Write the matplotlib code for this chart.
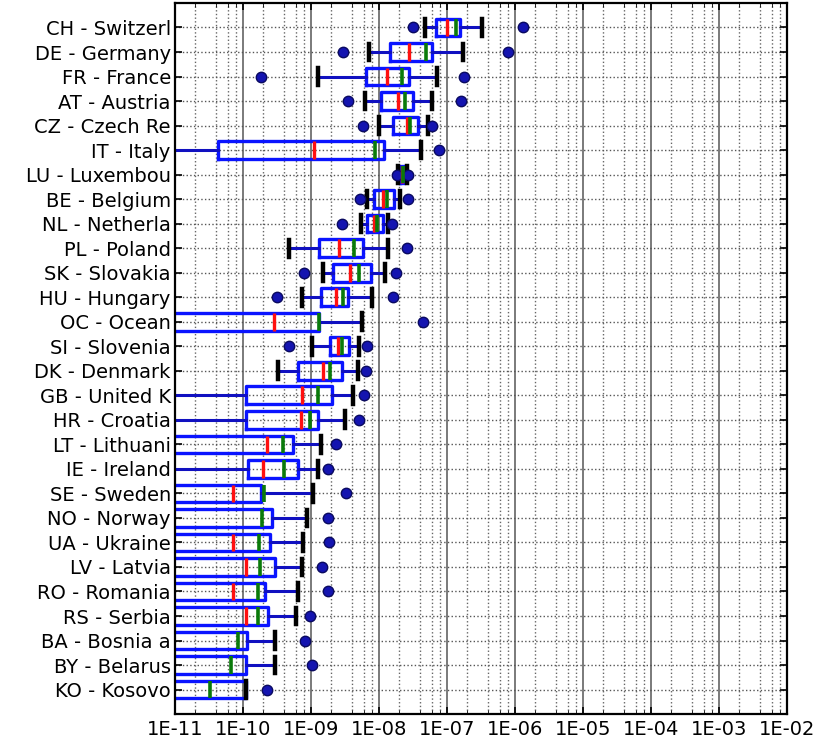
import numpy as np
import matplotlib
matplotlib.use("Agg")
import matplotlib.pyplot as plt
from matplotlib.ticker import LogLocator, FixedLocator, FuncFormatter

# rows listed top to bottom
countries = ["CH - Switzerl", "DE - Germany", "FR - France", "AT - Austria",
             "CZ - Czech Re", "IT - Italy", "LU - Luxembou", "BE - Belgium",
             "NL - Netherla", "PL - Poland", "SK - Slovakia", "HU - Hungary",
             "OC - Ocean", "SI - Slovenia", "DK - Denmark", "GB - United K",
             "HR - Croatia", "LT - Lithuani", "IE - Ireland", "SE - Sweden",
             "NO - Norway", "UA - Ukraine", "LV - Latvia", "RO - Romania",
             "RS - Serbia", "BA - Bosnia a", "BY - Belarus", "KO - Kosovo"]

# values below 1E-11 fall outside the axis (clipped like in the original)
whislo = [4.7e-8, 7.1e-9, 1.26e-9, 6.2e-9, 1.01e-8, 1e-12, 1.9e-8, 6.7e-9,
          5.4e-9, 4.74e-10, 1.52e-9, 7.3e-10, 1e-13, 1.02e-9, 3.3e-10, 1e-12,
          1e-12, 1e-13, 1e-12, 1e-13, 1e-13, 1e-13, 1e-13, 1e-13,
          1e-13, 1e-13, 1e-13, 1e-13]
q1 = [7.0e-8, 1.45e-8, 6.4e-9, 1.06e-8, 1.59e-8, 4.3e-11, 2.04e-8, 8.4e-9,
      6.7e-9, 1.32e-9, 2.13e-9, 1.40e-9, 1e-12, 1.90e-9, 6.4e-10, 1.11e-10,
      1.11e-10, 1e-12, 1.17e-10, 1e-12, 1e-12, 1e-12, 1e-12, 1e-12,
      1e-12, 1e-12, 1e-12, 1e-12]
median = [9.9e-8, 2.76e-8, 1.30e-8, 1.92e-8, 2.55e-8, 1.11e-9, 2.18e-8, 1.16e-8,
          8.4e-9, 2.6e-9, 3.75e-9, 2.33e-9, 2.86e-10, 2.52e-9, 1.49e-9, 7.4e-10,
          7.1e-10, 2.23e-10, 1.99e-10, 7.1e-11, 5e-12, 7.1e-11, 1.11e-10, 7.1e-11,
          1.11e-10, 5e-12, 5e-12, 5e-12]
mean = [1.35e-7, 4.9e-8, 2.15e-8, 2.44e-8, 2.86e-8, 8.7e-9, 2.25e-8, 1.30e-8,
        9.4e-9, 4.3e-9, 5.1e-9, 2.92e-9, 1.31e-9, 2.82e-9, 1.90e-9, 1.28e-9,
        9.7e-10, 3.92e-10, 4.05e-10, 2.06e-10, 1.92e-10, 1.72e-10, 1.78e-10, 1.64e-10,
        1.68e-10, 8.5e-11, 6.7e-11, 3.27e-11]
q3 = [1.55e-7, 6.1e-8, 2.79e-8, 3.13e-8, 3.78e-8, 1.19e-8, 2.41e-8, 1.66e-8,
      1.13e-8, 5.75e-9, 7.6e-9, 3.54e-9, 1.33e-9, 3.62e-9, 2.82e-9, 2.06e-9,
      1.28e-9, 5.5e-10, 6.5e-10, 1.82e-10, 2.70e-10, 2.49e-10, 2.96e-10, 2.11e-10,
      2.36e-10, 1.13e-10, 1.11e-10, 1.11e-10]
whishi = [3.3e-7, 1.74e-7, 7.05e-8, 6.1e-8, 5.3e-8, 4.15e-8, 2.58e-8, 2.04e-8,
          1.37e-8, 1.37e-8, 1.22e-8, 7.8e-9, 5.7e-9, 5.1e-9, 4.87e-9, 4.1e-9,
          3.16e-9, 1.39e-9, 1.26e-9, 1.08e-9, 8.6e-10, 7.7e-10, 7.3e-10, 6.4e-10,
          5.96e-10, 2.96e-10, 2.96e-10, 1.11e-10]
fliers = [[3.2e-8, 1.3e-6], [2.96e-9, 7.9e-7], [1.82e-10, 1.78e-7], [3.47e-9, 1.61e-7],
          [5.75e-9, 5.96e-8], [7.7e-8], [1.82e-8, 2.67e-8], [5.26e-9, 2.7e-8],
          [2.88e-9, 1.54e-8], [2.55e-8], [7.9e-10, 1.78e-8], [3.13e-10, 1.62e-8],
          [4.5e-8], [4.74e-10, 6.6e-9], [6.4e-9], [6.0e-9],
          [5.1e-9], [2.33e-9], [1.79e-9], [3.24e-9], [1.76e-9], [1.84e-9],
          [1.44e-9], [1.79e-9], [9.7e-10], [8.2e-10], [1.04e-9], [2.23e-10]]

tick_exps = list(range(-11, -1))

stats = []
for i in range(len(countries)):
    stats.append({"label": countries[i], "whislo": whislo[i], "q1": q1[i],
                  "med": median[i], "mean": mean[i], "q3": q3[i],
                  "whishi": whishi[i], "fliers": np.array(fliers[i])})

n = len(countries)
positions = np.arange(n, 0, -1)

fig = plt.figure(figsize=(8.36, 7.4), dpi=100)
ax = fig.add_axes([0.2093, 0.035, 0.7321, 0.961])

ax.bxp(stats, positions=positions, widths=0.72, capwidths=0.68,
       orientation="horizontal", showmeans=True, meanline=True,
       boxprops=dict(color="#0a14ff", linewidth=2.4),
       whiskerprops=dict(color="#1010c0", linewidth=2.2, linestyle="-"),
       capprops=dict(color="black", linewidth=3.2),
       medianprops=dict(color="#ff1010", linewidth=2.4),
       meanprops=dict(color="#0a7a0a", linewidth=2.6, linestyle="-"),
       flierprops=dict(marker="o", markerfacecolor="#1414b0",
                       markeredgecolor="#0a0a60", markersize=7.5, linestyle="none"))

ax.set_xscale("log")
ax.set_xlim(1e-11, 1e-2)
ax.set_ylim(0, n + 1)

ax.xaxis.set_major_locator(FixedLocator([10.0 ** e for e in tick_exps]))
ax.xaxis.set_major_formatter(FuncFormatter(lambda v, p: "1E-%02d" % round(-np.log10(v))))
ax.xaxis.set_minor_locator(LogLocator(base=10, subs=(2, 4, 6, 8), numticks=30))
ax.xaxis.set_minor_formatter(FuncFormatter(lambda v, p: ""))

ax.set_yticks(positions)
ax.set_yticklabels(countries)

ax.grid(True, which="major", axis="x", color="#7a7a7a", linestyle="-", linewidth=1.4)
ax.grid(True, which="minor", axis="x", color="#666666", linestyle=":", linewidth=1.0)
ax.grid(True, which="major", axis="y", color="#555555", linestyle=":", linewidth=1.0)
ax.set_axisbelow(True)

ax.tick_params(axis="both", which="major", direction="in", length=5, width=1.2,
               labelsize=14, top=True, right=True)
ax.tick_params(axis="x", which="minor", direction="in", length=3, top=True)
ax.tick_params(axis="y", pad=3)
ax.tick_params(axis="x", pad=4)
for s in ax.spines.values():
    s.set_linewidth(1.6)
    s.set_color("black")

fig.savefig("out.png", dpi=100)
